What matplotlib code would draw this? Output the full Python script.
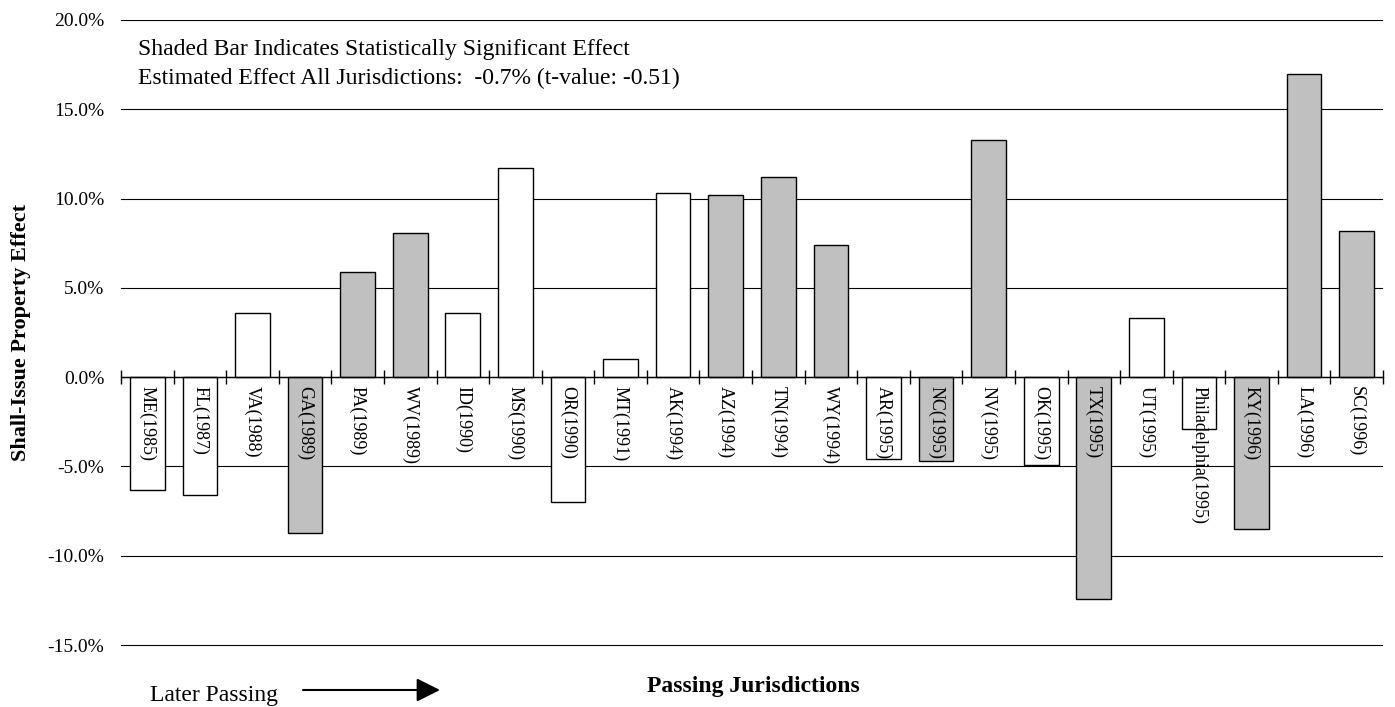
import numpy as np
import matplotlib
matplotlib.use("Agg")
import matplotlib.pyplot as plt
from matplotlib.ticker import FuncFormatter

plt.rcParams['font.family'] = ['Liberation Serif', 'DejaVu Serif']

# jurisdictions in order of passing
jurisdictions = ["ME(1985)", "FL(1987)", "VA(1988)", "GA(1989)", "PA(1989)", "WV(1989)",
                 "ID(1990)", "MS(1990)", "OR(1990)", "MT(1991)", "AK(1994)", "AZ(1994)",
                 "TN(1994)", "WY(1994)", "AR(1995)", "NC(1995)", "NV(1995)", "OK(1995)",
                 "TX(1995)", "UT(1995)", "Philadelphia(1995)", "KY(1996)", "LA(1996)", "SC(1996)"]
# effect in percent
effect = [-6.3, -6.6, 3.6, -8.7, 5.9, 8.1,
          3.6, 11.7, -7.0, 1.0, 10.3, 10.2,
          11.2, 7.4, -4.6, -4.7, 13.3, -4.9,
          -12.4, 3.3, -2.9, -8.5, 17.0, 8.2]
# 1 = statistically significant (shaded)
significant = [0, 0, 0, 1, 1, 1,
               0, 0, 0, 0, 0, 1,
               1, 1, 0, 1, 1, 0,
               1, 0, 0, 1, 1, 1]

W, H = 1395, 707
fig = plt.figure(figsize=(W / 100, H / 100), dpi=100)
# 20% at y=20px, -15% at y=645px, a bit of room below so the -15% line shows
ax = fig.add_axes([121 / W, 1 - 650.4 / H, (1383 - 121) / W, (650.4 - 20) / H])

x = np.arange(len(jurisdictions))
colores = ['#c0c0c0' if s else 'white' for s in significant]
ax.bar(x, effect, width=0.66, color=colores, edgecolor='black', linewidth=1.0, zorder=3)

ax.set_xlim(-0.5, len(jurisdictions) - 0.5)
ax.set_ylim(-15.3, 20)
ax.set_yticks(np.arange(-15, 21, 5))
ax.yaxis.set_major_formatter(FuncFormatter(lambda v, p: '%.1f%%' % v))
ax.tick_params(axis='y', length=0, labelsize=14, pad=12)
ax.yaxis.grid(True, color='black', linewidth=0.8, zorder=0)
ax.set_axisbelow(True)

# category axis crossing at zero, tick marks between categories
for s in ['left', 'right', 'top']:
    ax.spines[s].set_visible(False)
ax.spines['bottom'].set_position(('data', 0))
ax.spines['bottom'].set_linewidth(1.0)
ax.spines['bottom'].set_zorder(4)
ax.set_xticks(np.arange(-0.5, len(jurisdictions), 1.0))
ax.set_xticklabels([])
ax.tick_params(axis='x', direction='inout', length=10, width=1.0, color='black')

for i, nombre in enumerate(jurisdictions):
    ax.text(i, -0.5, nombre, rotation=270, ha='center', va='top', fontsize=13, zorder=5)

fig.text(138 / W, 1 - 55 / H, 'Shaded Bar Indicates Statistically Significant Effect',
         fontsize=17, va='baseline')
fig.text(138 / W, 1 - 84 / H, 'Estimated Effect All Jurisdictions:  -0.7% (t-value: -0.51)',
         fontsize=17, va='baseline')

fig.text(21 / W, 1 - 332 / H, 'Shall-Issue Property Effect', rotation=90,
         ha='center', va='center', fontsize=16, fontweight='bold')
fig.text(753 / W, 1 - 692 / H, 'Passing Jurisdictions', ha='center', va='baseline',
         fontsize=17, fontweight='bold')
fig.text(150 / W, 1 - 701 / H, 'Later Passing', ha='left', va='baseline', fontsize=17)
fig.add_artist(matplotlib.patches.FancyArrowPatch(
    (303 / W, 1 - 690 / H), (440 / W, 1 - 690 / H), transform=fig.transFigure,
    arrowstyle='-|>,head_length=0.6,head_width=0.3', mutation_scale=24,
    color='black', linewidth=1.5, shrinkA=0, shrinkB=0))

fig.savefig('out.png', dpi=100)
